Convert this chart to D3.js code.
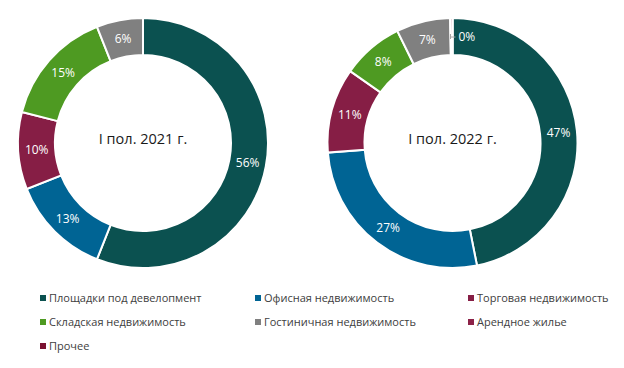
<!DOCTYPE html>
<html>
<head>
<meta charset="utf-8">
<script src="https://cdn.jsdelivr.net/npm/d3@7"></script>
<style>
  body { margin: 0; background: #fff; }
  text { font-family: "Open Sans", "Noto Sans", sans-serif; }
</style>
</head>
<body>
<svg id="chart"></svg>
<script>
let width = 624;
let height = 368;

let categories = ['Площадки под девелопмент', 'Офисная недвижимость', 'Торговая недвижимость',
                  'Складская недвижимость', 'Гостиничная недвижимость', 'Арендное жилье', 'Прочее'];
let colors = ['#0b5150', '#006494', '#861e45', '#4e9a22', '#808080', '#8c2248', '#7a1030'];

let titles = ['I пол. 2021 г.', 'I пол. 2022 г.'];
let values2021 = [56, 13, 10, 15, 6, 0, 0];
let values2022 = [47, 27, 11, 8, 7, 0.3, 0];
let seriesValues = [values2021, values2022];

let centersX = [143, 452.5];
let centerY = 143;
let outerR = 125;
let innerR = 88;

let svg = d3.select('#chart')
            .attr('width', width)
            .attr('height', height);

let pie = d3.pie()
            .sort(null)
            .value(d => d);

let arc = d3.arc()
            .innerRadius(innerR)
            .outerRadius(outerR);

seriesValues.forEach((vals, k) => {
    let g = svg.append('g')
                .attr('transform', `translate(${centersX[k]},${centerY})`);

    let arcs = pie(vals);

    g.selectAll('path')
        .data(arcs)
        .enter()
        .append('path')
            .attr('d', arc)
            .attr('fill', (d, i) => colors[i])
            .attr('stroke', '#fff')
            .attr('stroke-width', 2);

    // labels for visible slices
    g.selectAll('.lbl')
        .data(arcs.filter(d => d.data >= 1))
        .enter()
        .append('text')
            .classed('lbl', true)
            .attr('transform', d => `translate(${arc.centroid(d)})`)
            .attr('text-anchor', 'middle')
            .attr('dy', '0.35em')
            .attr('fill', '#fff')
            .style('font-size', '12px')
            .text(d => Math.round(d.data) + '%');

    // tiny slices get a label with a short leader line
    let tiny = arcs.filter(d => d.data > 0 && d.data < 1);
    tiny.forEach(d => {
        let r = (innerR + outerR) / 2;
        let a = d.startAngle;
        let x = r * Math.sin(a);
        let y = -r * Math.cos(a) + 0.5;
        g.append('line')
            .attr('x1', x).attr('y1', y)
            .attr('x2', x + 5).attr('y2', y)
            .attr('stroke', '#a6a6a6')
            .attr('stroke-width', 1);
        g.append('line')
            .attr('x1', x).attr('y1', y - 3)
            .attr('x2', x).attr('y2', y + 2)
            .attr('stroke', '#a6a6a6')
            .attr('stroke-width', 1);
        g.append('text')
            .attr('x', x + 8)
            .attr('y', y)
            .attr('dy', '0.35em')
            .attr('fill', '#fff')
            .style('font-size', '12px')
            .text(Math.round(d.data) + '%');
    });

    g.append('text')
        .attr('text-anchor', 'middle')
        .attr('dy', '0.35em')
        .attr('y', -4)
        .attr('fill', '#1a1a1a')
        .style('font-size', '14.5px')
        .text(titles[k]);
});

// legend
let colX = [40, 255, 468];
let rowY = [298, 322, 346];

let legend = svg.selectAll('.legend')
                .data(categories)
                .enter()
                .append('g')
                    .classed('legend', true)
                    .attr('transform', (d, i) => `translate(${colX[i % 3]},${rowY[Math.floor(i / 3)]})`);

legend
    .append('rect')
        .attr('x', 0)
        .attr('y', -3)
        .attr('width', 6)
        .attr('height', 6)
        .attr('fill', (d, i) => colors[i]);

legend
    .append('text')
        .attr('x', 9)
        .attr('dy', '0.35em')
        .attr('fill', '#404040')
        .style('font-size', '11px')
        .text(d => d);
</script>
</body>
</html>
